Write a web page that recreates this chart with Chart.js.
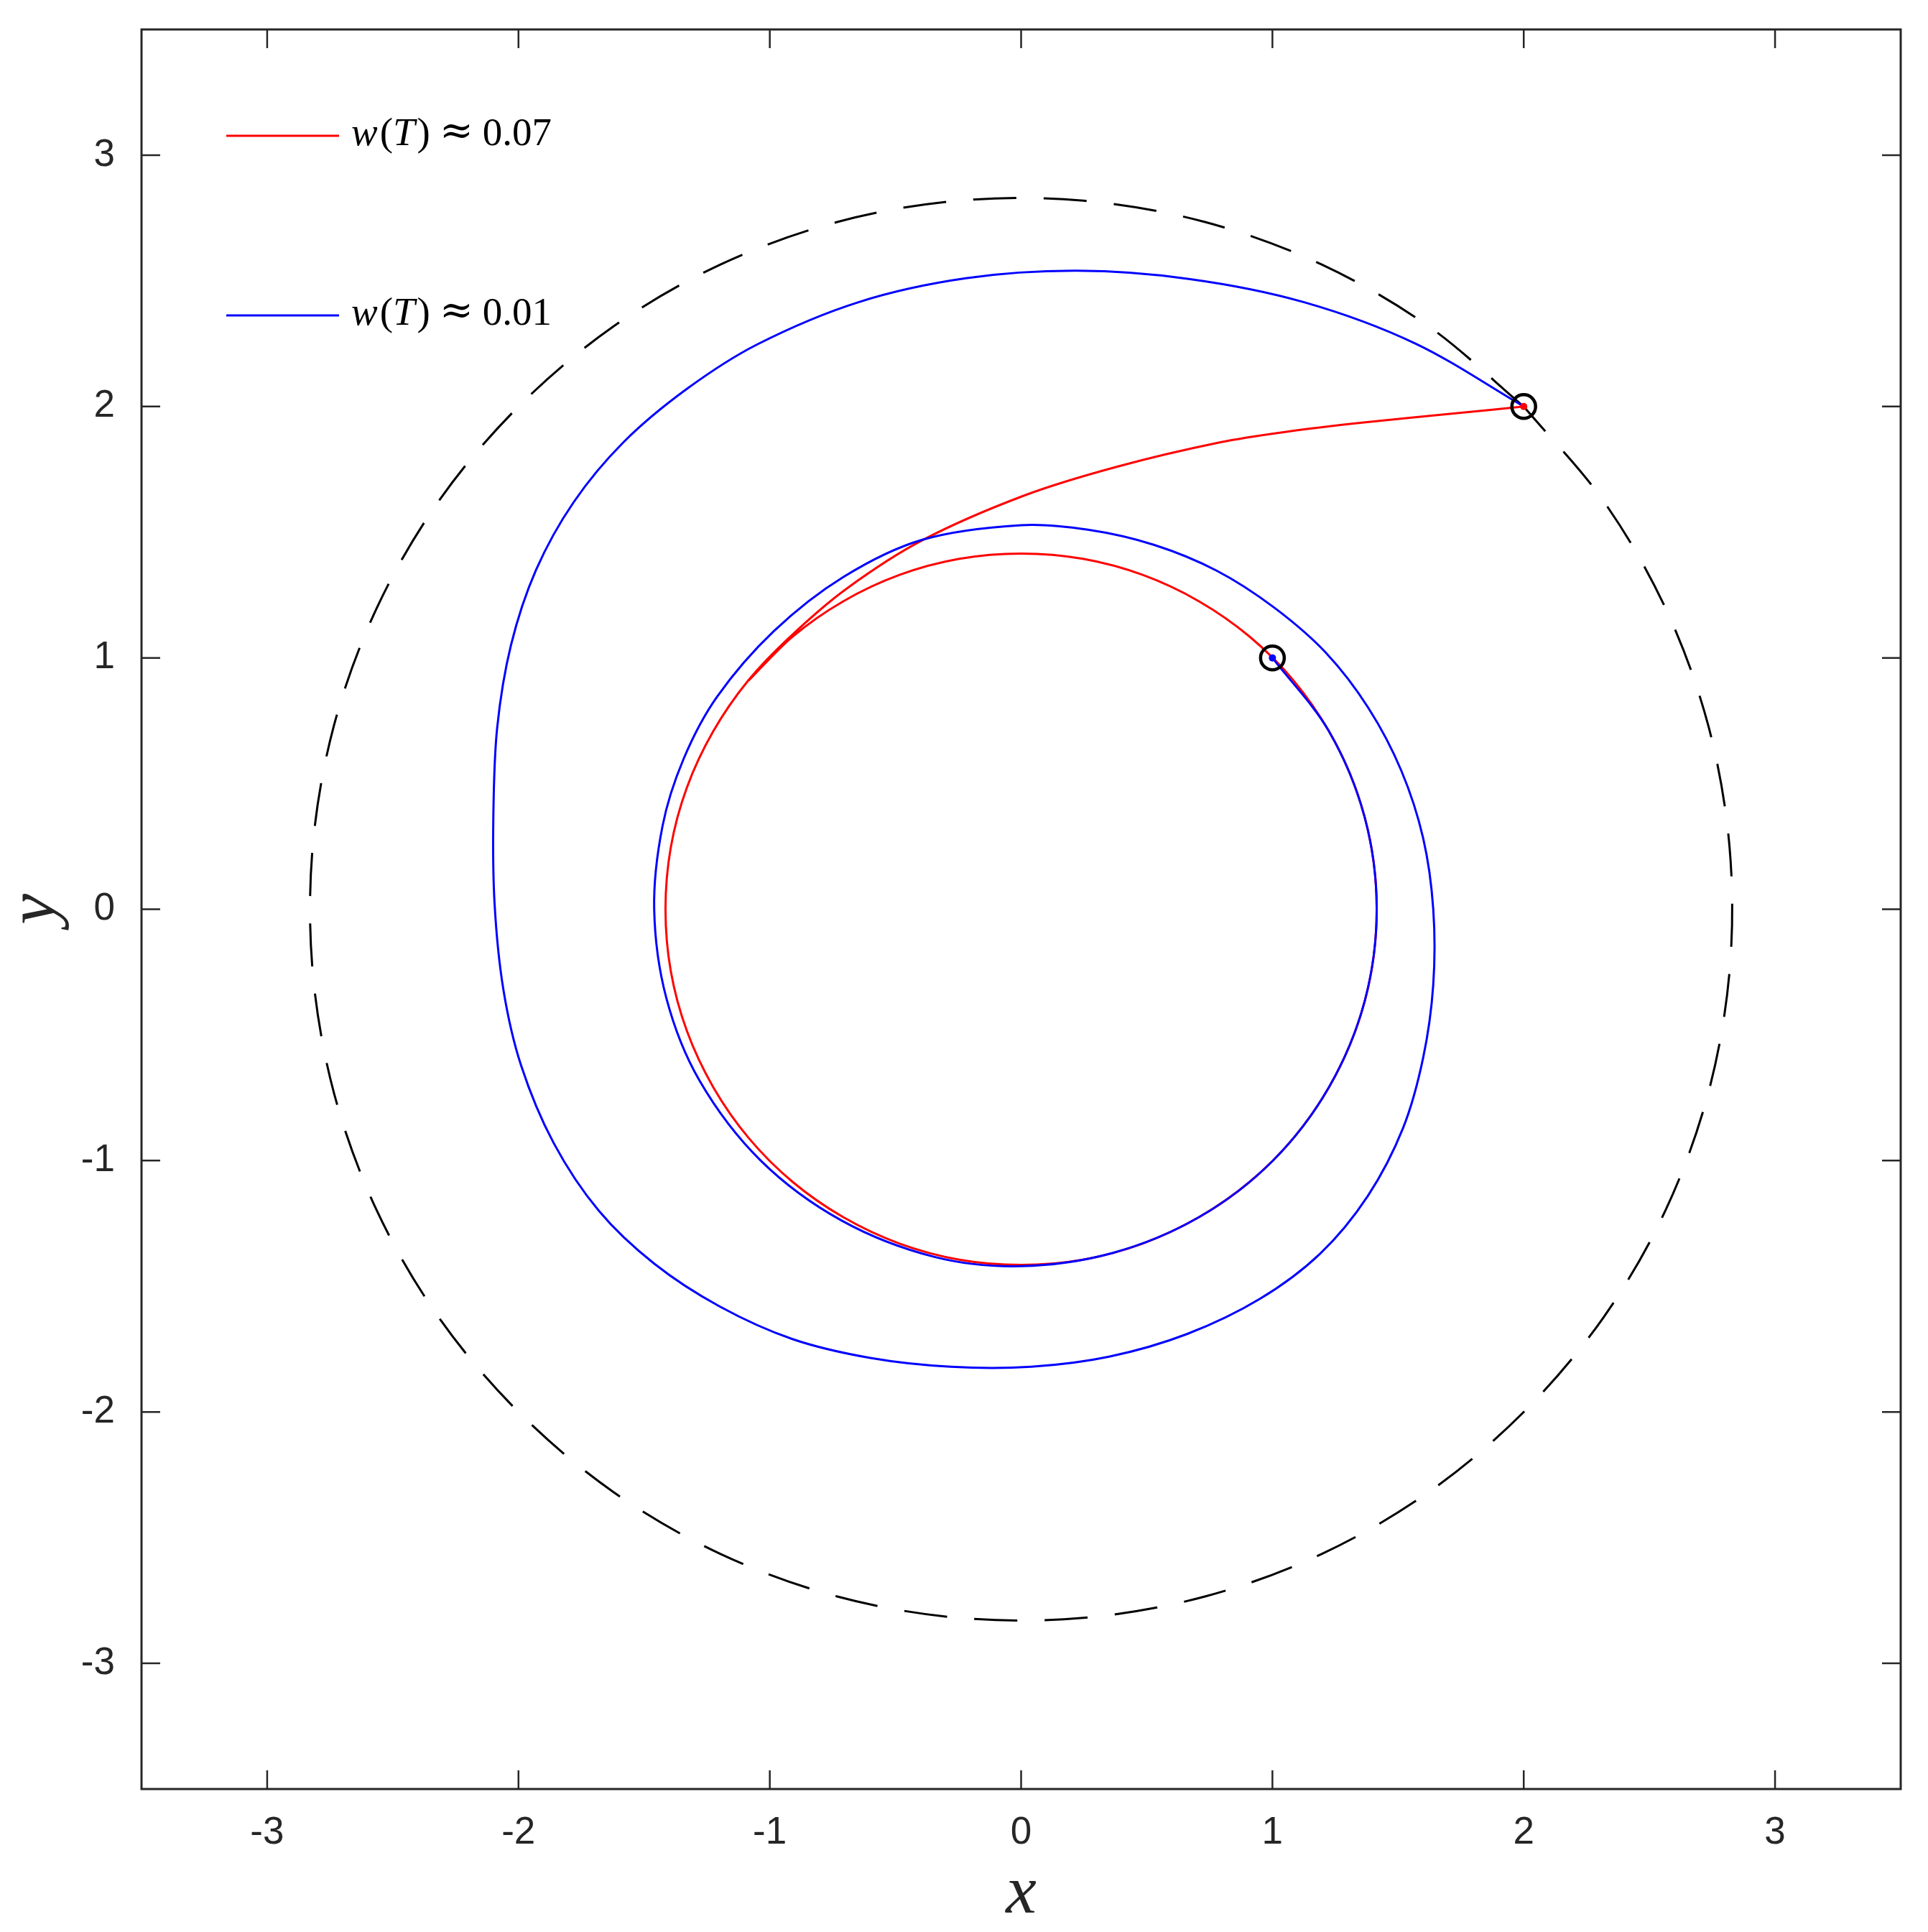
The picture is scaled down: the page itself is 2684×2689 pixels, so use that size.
<!DOCTYPE html>
<html>
<head>
<meta charset="utf-8">
<script src="https://cdn.jsdelivr.net/npm/chart.js@4.4.1/dist/chart.umd.min.js"></script>
<style>
  html, body { margin: 0; padding: 0; background: #fff; }
  #wrap { width: 2684px; height: 2689px; }
</style>
</head>
<body>
<div id="wrap"><canvas id="orbit" width="2684" height="2689"></canvas></div>
<script>
// tick labels (both axes)
const tickValues = [-3, -2, -1, 0, 1, 2, 3];
const seriesLabels = ['w(T) ≈ 0.07', 'w(T) ≈ 0.01'];

// red trajectory
const redX = [2.00, 1.75, 1.37, 1.06, 0.79, 0.38, 0.01, -0.393, -0.695, -0.914, -1.085, -1.225, -1.330, -1.394, -1.415, -1.394,
  -1.330, -1.225, -1.084, -0.910, -0.708, -0.484, -0.246, 0.000, 0.246, 0.484, 0.708, 0.910, 1.084, 1.225, 1.330, 1.394, 1.415,
  1.394, 1.330, 1.225, 1.084, 0.910, 0.708, 0.484, 0.246, 0.000, -0.246, -0.484, -0.708, -0.910, -1.084];
const redY = [2.00, 1.975, 1.937, 1.90, 1.857, 1.76, 1.645, 1.468, 1.275, 1.089, 0.911, 0.708, 0.484, 0.246, 0.000, -0.246,
  -0.484, -0.708, -0.910, -1.084, -1.225, -1.330, -1.394, -1.415, -1.394, -1.330, -1.225, -1.084, -0.910, -0.708, -0.484, -0.246, 0.000,
  0.246, 0.484, 0.708, 0.910, 1.084, 1.225, 1.330, 1.394, 1.415, 1.394, 1.330, 1.225, 1.084, 0.910];

// blue trajectory
const blueX = [2.00, 1.57, 1.126, 0.672, 0.222, -0.220, -0.647, -1.048, -1.33, -1.58, -1.78, -1.93, -2.03, -2.085, -2.10,
  -2.095, -2.06, -1.99, -1.86, -1.68, -1.46, -1.20, -0.91, -0.60, -0.28, 0.04, 0.35, 0.66, 0.95, 1.19, 1.38, 1.52, 1.60, 1.64,
  1.64, 1.600, 1.513, 1.383, 1.214, 1.007, 0.778, 0.528, 0.266, 0.000, -0.393, -0.707, -0.983, -1.210, -1.343, -1.427, -1.460,
  -1.412, -1.280, -1.036, -0.715, -0.345, 0.000, 0.366, 0.708, 1.001, 1.225, 1.367, 1.415, 1.367, 1.225, 1.000];
const blueY = [2.00, 2.25, 2.415, 2.507, 2.540, 2.510, 2.415, 2.248, 2.07, 1.86, 1.62, 1.35, 1.05, 0.72, 0.37,
  0.02, -0.32, -0.62, -0.93, -1.20, -1.41, -1.58, -1.71, -1.785, -1.82, -1.82, -1.78, -1.69, -1.55, -1.37, -1.14, -0.87, -0.59, -0.30,
  0.00, 0.282, 0.551, 0.799, 1.019, 1.200, 1.347, 1.450, 1.510, 1.528, 1.470, 1.322, 1.107, 0.845, 0.598, 0.330, 0.000,
  -0.352, -0.681, -1.000, -1.238, -1.383, -1.420, -1.367, -1.225, -1.001, -0.708, -0.366, 0.000, 0.366, 0.708, 1.000];

// dashed boundary circle, starting at the (2, 2) marker
const ringX = [2.00, 1.623, 1.196, 0.732, 0.247, -0.247, -0.732, -1.196, -1.623, -2.00, -2.318, -2.565, -2.734, -2.819, -2.819, -2.734,
  -2.565, -2.318, -2.00, -1.623, -1.196, -0.732, -0.247, 0.247, 0.732, 1.196, 1.623, 2.00, 2.318, 2.565, 2.734, 2.819, 2.819, 2.734,
  2.565, 2.318, 2.00];
const ringY = [2.00, 2.318, 2.565, 2.734, 2.819, 2.819, 2.734, 2.565, 2.318, 2.00, 1.623, 1.196, 0.732, 0.247, -0.247, -0.732,
  -1.196, -1.623, -2.00, -2.318, -2.565, -2.734, -2.819, -2.819, -2.734, -2.565, -2.318, -2.00, -1.623, -1.196, -0.732, -0.247, 0.247, 0.732,
  1.196, 1.623, 2.00];

// start / end markers
const markerX = [2, 1];
const markerY = [2, 1];

const pts = (xs, ys) => xs.map((x, i) => ({ x: x, y: ys[i] }));

const INK = '#262626';
const tickFont = { family: '"Liberation Sans", Arial, sans-serif', size: 53 };

const framePlugin = {
    id: 'framePlugin',
    afterDraw(chart) {
        const { ctx, chartArea: a, scales } = chart;
        const sx = scales.x, sy = scales.y;
        ctx.save();
        // inward ticks on all four sides
        ctx.strokeStyle = INK;
        ctx.lineWidth = 2.5;
        ctx.beginPath();
        tickValues.forEach(v => {
            const px = sx.getPixelForValue(v);
            ctx.moveTo(px, a.bottom); ctx.lineTo(px, a.bottom - 26);
            ctx.moveTo(px, a.top); ctx.lineTo(px, a.top + 26);
            const py = sy.getPixelForValue(v);
            ctx.moveTo(a.left, py); ctx.lineTo(a.left + 26, py);
            ctx.moveTo(a.right, py); ctx.lineTo(a.right - 26, py);
        });
        ctx.stroke();
        ctx.lineWidth = 3;
        ctx.strokeRect(a.left, a.top, a.right - a.left, a.bottom - a.top);

        // axis titles
        ctx.fillStyle = INK;
        ctx.font = 'italic 96px "Liberation Serif", serif';
        ctx.textAlign = 'center';
        ctx.textBaseline = 'alphabetic';
        ctx.fillText('x', (a.left + a.right) / 2, 2662);
        ctx.save();
        ctx.translate(76, (a.top + a.bottom) / 2);
        ctx.rotate(-Math.PI / 2);
        ctx.fillText('y', 0, 0);
        ctx.restore();

        // legend, no box
        chart.data.datasets.slice(0, 2).forEach((ds, i) => {
            const ly = 189 + i * 250;
            ctx.strokeStyle = ds.borderColor;
            ctx.lineWidth = 3;
            ctx.beginPath();
            ctx.moveTo(315, ly); ctx.lineTo(472, ly);
            ctx.stroke();
            drawMath(ctx, ds.label, 489, ly + 13);
        });
        ctx.restore();
    }
};

function drawMath(ctx, text, x, base) {
    ctx.fillStyle = '#000';
    ctx.textAlign = 'left';
    ctx.textBaseline = 'alphabetic';
    for (const ch of text) {
        if (ch === ' ') continue;
        if (ch === '≈') {
            x += 13;
            ctx.font = '56px "DejaVu Serif", serif';
            ctx.fillText(ch, x, base - 2);
            x += ctx.measureText(ch).width + 13;
            continue;
        }
        const ital = /[A-Za-z]/.test(ch);
        ctx.font = (ital ? 'italic ' : '') + '55px "Liberation Serif", serif';
        ctx.fillText(ch, x, base);
        x += ctx.measureText(ch).width + (ital ? 3 : 0);
    }
}

new Chart(document.getElementById('orbit'), {
    type: 'scatter',
    data: {
        datasets: [
            { label: seriesLabels[0], data: pts(redX, redY), showLine: true, borderColor: '#ff0000', borderWidth: 3,
              pointRadius: 0, tension: 0.33, order: 3 },
            { label: seriesLabels[1], data: pts(blueX, blueY), showLine: true, borderColor: '#0000ff', borderWidth: 3,
              pointRadius: 0, tension: 0.33, order: 2 },
            { label: 'ring', data: pts(ringX, ringY), showLine: true, borderColor: '#000', borderWidth: 3,
              borderDash: [60, 38], pointRadius: 0, tension: 0.33, order: 4 },
            { label: 'ends', data: [{ x: redX[0], y: redY[0] }, { x: blueX[blueX.length - 1], y: blueY[blueY.length - 1] }],
              pointRadius: 5, pointBackgroundColor: ['#ff0000', '#0000ff'], pointBorderWidth: 0, order: 1 },
            { label: 'markers', data: pts(markerX, markerY), pointRadius: 16.5, pointBorderWidth: 4.5,
              pointBorderColor: '#000', pointBackgroundColor: 'rgba(0,0,0,0)', order: 0 }
        ]
    },
    options: {
        responsive: false,
        animation: false,
        layout: { padding: { top: 41, right: 38, left: 0, bottom: 0 } },
        plugins: { legend: { display: false }, tooltip: { enabled: false } },
        scales: {
            x: {
                type: 'linear', min: -3.5, max: 3.5,
                afterBuildTicks: s => { s.ticks = tickValues.map(v => ({ value: v })); },
                afterFit: s => { s.height = 199; s.paddingLeft = 0; s.paddingRight = 0; },
                grid: { display: false, drawTicks: false },
                border: { display: false },
                ticks: { font: tickFont, color: INK, padding: 30, maxRotation: 0, autoSkip: false,
                         callback: v => String(v) }
            },
            y: {
                type: 'linear', min: -3.5, max: 3.5,
                afterBuildTicks: s => { s.ticks = tickValues.map(v => ({ value: v })); },
                afterFit: s => { s.width = 197; s.paddingTop = 0; s.paddingBottom = 0; },
                grid: { display: false, drawTicks: false },
                border: { display: false },
                ticks: { font: tickFont, color: INK, padding: 37, autoSkip: false,
                         callback: v => String(v) }
            }
        }
    },
    plugins: [framePlugin]
});
</script>
</body>
</html>
